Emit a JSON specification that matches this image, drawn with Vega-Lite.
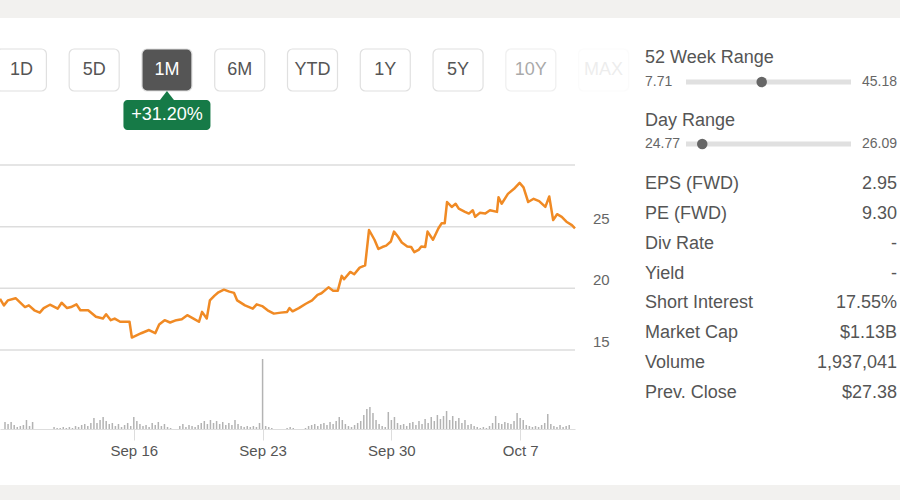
{
  "$schema": "https://vega.github.io/schema/vega-lite/v6.json",
  "width": 900,
  "height": 467,
  "autosize": {"type": "none"},
  "padding": {"left": 0, "right": 0, "top": 18, "bottom": 15},
  "background": "#f2f1ef",
  "config": {
    "view": {"fill": "#ffffff", "stroke": null},
    "font": "Liberation Sans",
    "text": {"font": "Liberation Sans"}
  },
  "datasets": {
    "periods": [
      {"period": "1D"}, {"period": "5D"}, {"period": "1M"}, {"period": "6M"}, {"period": "YTD"},
      {"period": "1Y"}, {"period": "5Y"}, {"period": "10Y"}, {"period": "MAX"}
    ],
    "badge": [{"period": "1M", "change": "+31.20%"}],
    "levels": [{"level": 15}, {"level": 20}, {"level": 25}, {"level": 30}],
    "price": [
      {"t": "2024-09-09T00:00", "close": 19.15}, {"t": "2024-09-09T05:00", "close": 18.62}, {"t": "2024-09-09T10:00", "close": 19.02},
      {"t": "2024-09-09T20:00", "close": 19.20}, {"t": "2024-09-10T08:00", "close": 18.48}, {"t": "2024-09-10T13:00", "close": 18.62},
      {"t": "2024-09-10T20:00", "close": 18.22}, {"t": "2024-09-11T03:00", "close": 18.03}, {"t": "2024-09-11T08:00", "close": 18.40},
      {"t": "2024-09-11T16:00", "close": 18.67}, {"t": "2024-09-12T02:00", "close": 18.35}, {"t": "2024-09-12T07:00", "close": 18.83},
      {"t": "2024-09-12T14:00", "close": 18.40}, {"t": "2024-09-12T19:00", "close": 18.48}, {"t": "2024-09-13T02:00", "close": 18.70},
      {"t": "2024-09-13T07:00", "close": 18.22}, {"t": "2024-09-13T17:00", "close": 18.22}, {"t": "2024-09-14T03:00", "close": 17.69},
      {"t": "2024-09-14T12:00", "close": 17.55}, {"t": "2024-09-14T16:00", "close": 17.90}, {"t": "2024-09-14T22:00", "close": 17.42},
      {"t": "2024-09-15T03:00", "close": 17.55}, {"t": "2024-09-15T10:00", "close": 17.29}, {"t": "2024-09-15T22:00", "close": 17.29},
      {"t": "2024-09-16T01:00", "close": 16.01}, {"t": "2024-09-16T13:00", "close": 16.36}, {"t": "2024-09-16T23:00", "close": 16.62},
      {"t": "2024-09-17T07:00", "close": 16.36}, {"t": "2024-09-17T12:00", "close": 17.07}, {"t": "2024-09-17T19:00", "close": 17.42},
      {"t": "2024-09-18T02:00", "close": 17.23}, {"t": "2024-09-18T10:00", "close": 17.42}, {"t": "2024-09-18T17:00", "close": 17.50},
      {"t": "2024-09-19T00:00", "close": 17.82}, {"t": "2024-09-19T08:00", "close": 17.55}, {"t": "2024-09-19T15:00", "close": 17.29},
      {"t": "2024-09-19T19:00", "close": 18.09}, {"t": "2024-09-20T01:00", "close": 17.55}, {"t": "2024-09-20T05:00", "close": 19.02},
      {"t": "2024-09-20T11:00", "close": 19.41}, {"t": "2024-09-20T16:00", "close": 19.68}, {"t": "2024-09-20T23:00", "close": 19.89},
      {"t": "2024-09-21T06:00", "close": 19.73}, {"t": "2024-09-21T12:00", "close": 19.63}, {"t": "2024-09-21T16:00", "close": 19.02},
      {"t": "2024-09-22T02:00", "close": 18.62}, {"t": "2024-09-22T12:00", "close": 18.35}, {"t": "2024-09-22T17:00", "close": 18.70},
      {"t": "2024-09-23T00:00", "close": 18.56}, {"t": "2024-09-23T07:00", "close": 18.22}, {"t": "2024-09-23T15:00", "close": 17.95},
      {"t": "2024-09-24T00:00", "close": 18.03}, {"t": "2024-09-24T08:00", "close": 18.09}, {"t": "2024-09-24T11:00", "close": 18.40},
      {"t": "2024-09-24T15:00", "close": 18.14}, {"t": "2024-09-24T23:00", "close": 18.40}, {"t": "2024-09-25T08:00", "close": 18.75},
      {"t": "2024-09-25T16:00", "close": 19.02}, {"t": "2024-09-25T23:00", "close": 19.47}, {"t": "2024-09-26T04:00", "close": 19.60},
      {"t": "2024-09-26T13:00", "close": 20.08}, {"t": "2024-09-26T19:00", "close": 19.81}, {"t": "2024-09-27T01:00", "close": 19.81},
      {"t": "2024-09-27T06:00", "close": 21.01}, {"t": "2024-09-27T09:00", "close": 20.74}, {"t": "2024-09-27T17:00", "close": 21.33},
      {"t": "2024-09-27T22:00", "close": 21.14}, {"t": "2024-09-28T05:00", "close": 21.68}, {"t": "2024-09-28T12:00", "close": 21.86},
      {"t": "2024-09-28T17:00", "close": 24.73}, {"t": "2024-09-29T00:00", "close": 23.94}, {"t": "2024-09-29T05:00", "close": 23.19},
      {"t": "2024-09-29T10:00", "close": 23.35}, {"t": "2024-09-29T15:00", "close": 23.46}, {"t": "2024-09-29T21:00", "close": 23.80},
      {"t": "2024-09-30T01:00", "close": 24.60}, {"t": "2024-09-30T06:00", "close": 24.20}, {"t": "2024-09-30T11:00", "close": 23.72},
      {"t": "2024-09-30T18:00", "close": 23.40}, {"t": "2024-09-30T23:00", "close": 23.35}, {"t": "2024-10-01T03:00", "close": 22.93},
      {"t": "2024-10-01T09:00", "close": 23.14}, {"t": "2024-10-01T12:00", "close": 23.40}, {"t": "2024-10-01T17:00", "close": 23.35},
      {"t": "2024-10-01T20:00", "close": 24.60}, {"t": "2024-10-02T03:00", "close": 23.94}, {"t": "2024-10-02T10:00", "close": 24.87},
      {"t": "2024-10-02T14:00", "close": 25.27}, {"t": "2024-10-02T18:00", "close": 25.27}, {"t": "2024-10-02T21:00", "close": 27.00},
      {"t": "2024-10-03T03:00", "close": 26.60}, {"t": "2024-10-03T08:00", "close": 26.86}, {"t": "2024-10-03T12:00", "close": 26.46},
      {"t": "2024-10-03T20:00", "close": 26.20}, {"t": "2024-10-04T01:00", "close": 26.06}, {"t": "2024-10-04T06:00", "close": 26.33},
      {"t": "2024-10-04T09:00", "close": 25.80}, {"t": "2024-10-04T15:00", "close": 26.12}, {"t": "2024-10-04T22:00", "close": 26.06},
      {"t": "2024-10-05T04:00", "close": 26.33}, {"t": "2024-10-05T13:00", "close": 26.20}, {"t": "2024-10-05T15:00", "close": 27.39},
      {"t": "2024-10-05T19:00", "close": 26.86}, {"t": "2024-10-06T03:00", "close": 27.66}, {"t": "2024-10-06T12:00", "close": 28.14},
      {"t": "2024-10-06T18:00", "close": 28.55}, {"t": "2024-10-06T23:00", "close": 28.19}, {"t": "2024-10-07T05:00", "close": 27.00},
      {"t": "2024-10-07T12:00", "close": 27.26}, {"t": "2024-10-07T19:00", "close": 27.07}, {"t": "2024-10-08T03:00", "close": 26.60},
      {"t": "2024-10-08T08:00", "close": 27.45}, {"t": "2024-10-08T13:00", "close": 25.53}, {"t": "2024-10-08T18:00", "close": 26.01},
      {"t": "2024-10-09T00:00", "close": 25.80}, {"t": "2024-10-09T06:00", "close": 25.40}, {"t": "2024-10-09T13:00", "close": 25.13},
      {"t": "2024-10-09T17:00", "close": 24.87}
    ],
    "volume": [
      {"t": "2024-09-09T00:00", "v": 105000}, {"t": "2024-09-09T04:00", "v": 75000}, {"t": "2024-09-09T08:00", "v": 105000}, {"t": "2024-09-09T12:00", "v": 60000}, {"t": "2024-09-09T16:00", "v": 30000}, {"t": "2024-09-09T20:00", "v": 45000},
      {"t": "2024-09-10T00:00", "v": 60000}, {"t": "2024-09-10T04:00", "v": 135000}, {"t": "2024-09-10T08:00", "v": 45000}, {"t": "2024-09-10T12:00", "v": 105000},
      {"t": "2024-09-11T16:00", "v": 30000}, {"t": "2024-09-11T20:00", "v": 15000},
      {"t": "2024-09-12T00:00", "v": 15000}, {"t": "2024-09-12T04:00", "v": 30000}, {"t": "2024-09-12T08:00", "v": 15000}, {"t": "2024-09-12T12:00", "v": 30000}, {"t": "2024-09-12T16:00", "v": 15000}, {"t": "2024-09-12T20:00", "v": 45000},
      {"t": "2024-09-13T00:00", "v": 30000}, {"t": "2024-09-13T04:00", "v": 60000}, {"t": "2024-09-13T08:00", "v": 75000}, {"t": "2024-09-13T12:00", "v": 45000}, {"t": "2024-09-13T16:00", "v": 90000}, {"t": "2024-09-13T20:00", "v": 165000},
      {"t": "2024-09-14T00:00", "v": 90000}, {"t": "2024-09-14T04:00", "v": 135000}, {"t": "2024-09-14T08:00", "v": 180000}, {"t": "2024-09-14T12:00", "v": 120000}, {"t": "2024-09-14T16:00", "v": 75000}, {"t": "2024-09-14T20:00", "v": 90000},
      {"t": "2024-09-15T00:00", "v": 45000}, {"t": "2024-09-15T04:00", "v": 75000}, {"t": "2024-09-15T08:00", "v": 30000}, {"t": "2024-09-15T12:00", "v": 60000}, {"t": "2024-09-15T16:00", "v": 90000}, {"t": "2024-09-15T20:00", "v": 45000},
      {"t": "2024-09-16T00:00", "v": 180000}, {"t": "2024-09-16T04:00", "v": 120000}, {"t": "2024-09-16T08:00", "v": 75000}, {"t": "2024-09-16T12:00", "v": 45000}, {"t": "2024-09-16T16:00", "v": 60000}, {"t": "2024-09-16T20:00", "v": 30000},
      {"t": "2024-09-17T00:00", "v": 90000}, {"t": "2024-09-17T04:00", "v": 60000}, {"t": "2024-09-17T08:00", "v": 105000}, {"t": "2024-09-17T12:00", "v": 45000}, {"t": "2024-09-17T16:00", "v": 75000}, {"t": "2024-09-17T20:00", "v": 30000},
      {"t": "2024-09-18T00:00", "v": 15000}, {"t": "2024-09-18T12:00", "v": 45000}, {"t": "2024-09-18T16:00", "v": 75000}, {"t": "2024-09-18T20:00", "v": 30000},
      {"t": "2024-09-19T00:00", "v": 60000}, {"t": "2024-09-19T04:00", "v": 45000}, {"t": "2024-09-19T08:00", "v": 30000}, {"t": "2024-09-19T12:00", "v": 60000}, {"t": "2024-09-19T16:00", "v": 90000}, {"t": "2024-09-19T20:00", "v": 120000},
      {"t": "2024-09-20T00:00", "v": 75000}, {"t": "2024-09-20T04:00", "v": 135000}, {"t": "2024-09-20T08:00", "v": 90000}, {"t": "2024-09-20T12:00", "v": 120000}, {"t": "2024-09-20T16:00", "v": 75000}, {"t": "2024-09-20T20:00", "v": 105000},
      {"t": "2024-09-21T00:00", "v": 60000}, {"t": "2024-09-21T04:00", "v": 90000}, {"t": "2024-09-21T08:00", "v": 60000}, {"t": "2024-09-21T12:00", "v": 135000}, {"t": "2024-09-21T16:00", "v": 75000}, {"t": "2024-09-21T20:00", "v": 45000},
      {"t": "2024-09-22T00:00", "v": 30000}, {"t": "2024-09-22T04:00", "v": 45000}, {"t": "2024-09-22T08:00", "v": 30000}, {"t": "2024-09-22T12:00", "v": 45000}, {"t": "2024-09-22T16:00", "v": 30000}, {"t": "2024-09-22T20:00", "v": 90000},
      {"t": "2024-09-23T00:00", "v": 1050000}, {"t": "2024-09-23T04:00", "v": 45000}, {"t": "2024-09-23T08:00", "v": 30000}, {"t": "2024-09-23T12:00", "v": 15000},
      {"t": "2024-09-24T08:00", "v": 15000}, {"t": "2024-09-24T12:00", "v": 30000}, {"t": "2024-09-24T16:00", "v": 15000},
      {"t": "2024-09-25T08:00", "v": 15000}, {"t": "2024-09-25T12:00", "v": 45000}, {"t": "2024-09-25T16:00", "v": 60000}, {"t": "2024-09-25T20:00", "v": 75000},
      {"t": "2024-09-26T00:00", "v": 45000}, {"t": "2024-09-26T04:00", "v": 75000}, {"t": "2024-09-26T08:00", "v": 90000}, {"t": "2024-09-26T12:00", "v": 60000}, {"t": "2024-09-26T16:00", "v": 105000}, {"t": "2024-09-26T20:00", "v": 75000},
      {"t": "2024-09-27T00:00", "v": 120000}, {"t": "2024-09-27T04:00", "v": 180000}, {"t": "2024-09-27T08:00", "v": 135000}, {"t": "2024-09-27T12:00", "v": 75000}, {"t": "2024-09-27T16:00", "v": 45000}, {"t": "2024-09-27T20:00", "v": 30000},
      {"t": "2024-09-28T00:00", "v": 60000}, {"t": "2024-09-28T04:00", "v": 90000}, {"t": "2024-09-28T08:00", "v": 120000}, {"t": "2024-09-28T12:00", "v": 210000}, {"t": "2024-09-28T16:00", "v": 300000}, {"t": "2024-09-28T20:00", "v": 330000},
      {"t": "2024-09-29T00:00", "v": 240000}, {"t": "2024-09-29T04:00", "v": 135000}, {"t": "2024-09-29T08:00", "v": 75000}, {"t": "2024-09-29T12:00", "v": 45000}, {"t": "2024-09-29T16:00", "v": 30000}, {"t": "2024-09-29T20:00", "v": 255000},
      {"t": "2024-09-30T00:00", "v": 135000}, {"t": "2024-09-30T04:00", "v": 180000}, {"t": "2024-09-30T08:00", "v": 90000}, {"t": "2024-09-30T12:00", "v": 60000}, {"t": "2024-09-30T16:00", "v": 75000}, {"t": "2024-09-30T20:00", "v": 45000},
      {"t": "2024-10-01T00:00", "v": 90000}, {"t": "2024-10-01T04:00", "v": 105000}, {"t": "2024-10-01T08:00", "v": 60000}, {"t": "2024-10-01T12:00", "v": 120000}, {"t": "2024-10-01T16:00", "v": 75000}, {"t": "2024-10-01T20:00", "v": 150000},
      {"t": "2024-10-02T00:00", "v": 90000}, {"t": "2024-10-02T04:00", "v": 180000}, {"t": "2024-10-02T08:00", "v": 120000}, {"t": "2024-10-02T12:00", "v": 210000}, {"t": "2024-10-02T16:00", "v": 150000}, {"t": "2024-10-02T20:00", "v": 195000},
      {"t": "2024-10-03T00:00", "v": 270000}, {"t": "2024-10-03T04:00", "v": 135000}, {"t": "2024-10-03T08:00", "v": 195000}, {"t": "2024-10-03T12:00", "v": 120000}, {"t": "2024-10-03T16:00", "v": 165000}, {"t": "2024-10-03T20:00", "v": 90000},
      {"t": "2024-10-04T00:00", "v": 135000}, {"t": "2024-10-04T04:00", "v": 60000}, {"t": "2024-10-04T08:00", "v": 75000}, {"t": "2024-10-04T12:00", "v": 45000}, {"t": "2024-10-04T16:00", "v": 30000}, {"t": "2024-10-04T20:00", "v": 15000},
      {"t": "2024-10-05T00:00", "v": 30000}, {"t": "2024-10-05T04:00", "v": 15000}, {"t": "2024-10-05T08:00", "v": 45000}, {"t": "2024-10-05T12:00", "v": 90000}, {"t": "2024-10-05T16:00", "v": 195000}, {"t": "2024-10-05T20:00", "v": 90000},
      {"t": "2024-10-06T00:00", "v": 75000}, {"t": "2024-10-06T04:00", "v": 105000}, {"t": "2024-10-06T08:00", "v": 90000}, {"t": "2024-10-06T12:00", "v": 75000}, {"t": "2024-10-06T16:00", "v": 120000}, {"t": "2024-10-06T20:00", "v": 240000},
      {"t": "2024-10-07T00:00", "v": 165000}, {"t": "2024-10-07T04:00", "v": 135000}, {"t": "2024-10-07T08:00", "v": 60000}, {"t": "2024-10-07T12:00", "v": 45000}, {"t": "2024-10-07T16:00", "v": 30000}, {"t": "2024-10-07T20:00", "v": 45000},
      {"t": "2024-10-08T00:00", "v": 30000}, {"t": "2024-10-08T04:00", "v": 60000}, {"t": "2024-10-08T08:00", "v": 90000}, {"t": "2024-10-08T12:00", "v": 225000}, {"t": "2024-10-08T16:00", "v": 75000}, {"t": "2024-10-08T20:00", "v": 45000},
      {"t": "2024-10-09T00:00", "v": 30000}, {"t": "2024-10-09T04:00", "v": 60000}, {"t": "2024-10-09T08:00", "v": 30000}, {"t": "2024-10-09T12:00", "v": 45000}, {"t": "2024-10-09T16:00", "v": 60000}
    ],
    "ranges": [
      {"range": "52 Week Range", "low": 7.71, "high": 45.18, "price": 24.9},
      {"range": "Day Range", "low": 24.77, "high": 26.09, "price": 24.9}
    ],
    "stats": [
      {"name": "EPS (FWD)", "value": "2.95"},
      {"name": "PE (FWD)", "value": "9.30"},
      {"name": "Div Rate", "value": "-"},
      {"name": "Yield", "value": "-"},
      {"name": "Short Interest", "value": "17.55%"},
      {"name": "Market Cap", "value": "$1.13B"},
      {"name": "Volume", "value": "1,937,041"},
      {"name": "Prev. Close", "value": "$27.38"}
    ]
  },
  "layer": [
    {
      "data": {"name": "periods"},
      "encoding": {
        "x": {"field": "period", "type": "nominal", "sort": null, "axis": null,
          "scale": {"type": "band", "domain": ["1D", "5D", "1M", "6M", "YTD", "1Y", "5Y", "10Y", "MAX"], "range": [-3.6, 628.6], "paddingInner": 0.313, "paddingOuter": 0}},
        "y": {"datum": "buttons", "type": "nominal", "axis": null,
          "scale": {"type": "band", "domain": ["buttons"], "range": [31, 73], "paddingInner": 0, "paddingOuter": 0}},
        "opacity": {"condition": [{"test": "datum.period === '10Y'", "value": 0.5}, {"test": "datum.period === 'MAX'", "value": 0.1}], "value": 1}
      },
      "layer": [
        {"mark": {"type": "rect", "cornerRadius": 5, "stroke": "#e0e0e0", "strokeWidth": 1.2},
         "encoding": {"fill": {"condition": {"test": "datum.period === '1M'", "value": "#555555"}, "value": "#ffffff"}}},
        {"mark": {"type": "text", "fontSize": 18, "baseline": "middle", "align": "center"},
         "encoding": {"text": {"field": "period"}, "color": {"condition": {"test": "datum.period === '1M'", "value": "#ffffff"}, "value": "#555555"}}}
      ]
    },
    {
      "data": {"name": "badge"},
      "encoding": {
        "x": {"field": "period", "type": "nominal", "axis": null,
          "scale": {"type": "band", "domain": ["1D", "5D", "1M", "6M", "YTD", "1Y", "5Y", "10Y", "MAX"], "range": [-3.6, 628.6], "paddingInner": 0.313, "paddingOuter": 0}},
        "y": {"datum": "badge", "type": "nominal", "axis": null,
          "scale": {"type": "band", "domain": ["badge"], "range": [82, 112], "paddingInner": 0, "paddingOuter": 0}}
      },
      "layer": [
        {"mark": {"type": "rect", "width": 87, "cornerRadius": 4, "fill": "#167a47"}},
        {"mark": {"type": "point", "shape": "M-1,0L0,-1.3L1,0Z", "size": 196, "filled": true, "color": "#167a47", "opacity": 1},
         "encoding": {"y": {"datum": "badge", "type": "nominal", "bandPosition": 0, "axis": null}}},
        {"mark": {"type": "text", "fontSize": 18, "color": "#ffffff", "baseline": "middle", "align": "center"},
         "encoding": {"text": {"field": "change"}}}
      ]
    },
    {
      "layer": [
        {
          "data": {"name": "levels"},
          "mark": {"type": "rule", "color": "#dddddd", "strokeWidth": 1.5},
          "encoding": {
            "y": {"field": "level", "type": "quantitative", "axis": null, "scale": {"domain": [15, 30], "range": [332, 147], "nice": false, "zero": false}},
            "x": {"datum": {"year": 2024, "month": "sep", "date": 9}, "type": "temporal", "axis": null,
              "scale": {"domain": [{"year": 2024, "month": "sep", "date": 9}, {"year": 2024, "month": "oct", "date": 9, "hours": 17}], "range": [0, 575], "nice": false}},
            "x2": {"datum": {"year": 2024, "month": "oct", "date": 9, "hours": 17}}
          }
        },
        {
          "data": {"name": "levels"},
          "transform": [{"filter": "datum.level < 30"}],
          "mark": {"type": "text", "align": "left", "baseline": "middle", "dx": 18, "dy": -8, "fontSize": 15, "color": "#666666"},
          "encoding": {
            "y": {"field": "level", "type": "quantitative", "axis": null},
            "x": {"datum": {"year": 2024, "month": "oct", "date": 9, "hours": 17}, "type": "temporal", "axis": null},
            "text": {"field": "level"}
          }
        },
        {
          "data": {"name": "price"},
          "mark": {"type": "line", "color": "#f08a24", "strokeWidth": 2.5, "strokeJoin": "round"},
          "encoding": {
            "x": {"field": "t", "type": "temporal", "axis": null},
            "y": {"field": "close", "type": "quantitative", "axis": null}
          }
        }
      ]
    },
    {
      "data": {"name": "volume"},
      "mark": {"type": "bar", "width": 1.5, "color": "#b3b3b3"},
      "encoding": {
        "x": {"field": "t", "type": "temporal",
          "scale": {"domain": [{"year": 2024, "month": "sep", "date": 9}, {"year": 2024, "month": "oct", "date": 9, "hours": 17}], "range": [0, 575], "nice": false},
          "axis": {"values": [{"year": 2024, "month": "sep", "date": 16}, {"year": 2024, "month": "sep", "date": 23}, {"year": 2024, "month": "sep", "date": 30}, {"year": 2024, "month": "oct", "date": 7}],
            "format": "%b %-d", "offset": -56, "domain": true, "domainColor": "#dddddd", "domainWidth": 1,
            "ticks": true, "tickColor": "#dddddd", "tickSize": 11, "labelFontSize": 15, "labelColor": "#555555",
            "labelPadding": 3, "grid": false, "title": null, "labelFont": "Liberation Sans"}},
        "y": {"field": "v", "type": "quantitative", "axis": null, "scale": {"domain": [0, 1050000], "range": [411, 341], "nice": false}}
      }
    },
    {
      "data": {"name": "ranges"},
      "mark": {"type": "text", "align": "left", "baseline": "middle", "fontSize": 18, "color": "#555555"},
      "encoding": {
        "x": {"datum": "label", "type": "nominal", "axis": null, "scale": {"type": "point", "domain": ["label", "value"], "range": [645, 897], "padding": 0}},
        "y": {"field": "range", "type": "nominal", "sort": null, "axis": null, "scale": {"type": "point", "domain": ["52 Week Range", "Day Range"], "range": [40, 103], "padding": 0}},
        "text": {"field": "range"}
      }
    },
    {
      "data": {"name": "ranges"},
      "transform": [{"filter": "datum.range === '52 Week Range'"}],
      "encoding": {
        "y": {"field": "range", "type": "nominal", "axis": null, "scale": {"type": "point", "domain": ["52 Week Range", "Day Range"], "range": [64, 126], "padding": 0}}
      },
      "layer": [
        {"mark": {"type": "rule", "color": "#e0e0e0", "strokeWidth": 5},
         "encoding": {"x": {"field": "low", "type": "quantitative", "axis": null, "scale": {"zero": false, "nice": false, "range": [686, 851]}}, "x2": {"field": "high"}}},
        {"mark": {"type": "point", "filled": true, "color": "#666666", "size": 110, "opacity": 1},
         "encoding": {"x": {"field": "price", "type": "quantitative", "axis": null}}},
        {"mark": {"type": "text", "align": "left", "baseline": "middle", "dx": -41, "fontSize": 14, "color": "#666666"},
         "encoding": {"x": {"field": "low", "type": "quantitative", "axis": null}, "text": {"field": "low", "type": "quantitative", "format": ".2f"}}},
        {"mark": {"type": "text", "align": "right", "baseline": "middle", "dx": 46, "fontSize": 14, "color": "#666666"},
         "encoding": {"x": {"field": "high", "type": "quantitative", "axis": null}, "text": {"field": "high", "type": "quantitative", "format": ".2f"}}}
      ]
    },
    {
      "data": {"name": "ranges"},
      "transform": [{"filter": "datum.range === 'Day Range'"}],
      "encoding": {
        "y": {"field": "range", "type": "nominal", "axis": null, "scale": {"type": "point", "domain": ["52 Week Range", "Day Range"], "range": [64, 126], "padding": 0}}
      },
      "layer": [
        {"mark": {"type": "rule", "color": "#e0e0e0", "strokeWidth": 5},
         "encoding": {"x": {"field": "low", "type": "quantitative", "axis": null, "scale": {"zero": false, "nice": false, "range": [686, 851]}}, "x2": {"field": "high"}}},
        {"mark": {"type": "point", "filled": true, "color": "#666666", "size": 110, "opacity": 1},
         "encoding": {"x": {"field": "price", "type": "quantitative", "axis": null}}},
        {"mark": {"type": "text", "align": "left", "baseline": "middle", "dx": -41, "fontSize": 14, "color": "#666666"},
         "encoding": {"x": {"field": "low", "type": "quantitative", "axis": null}, "text": {"field": "low", "type": "quantitative", "format": ".2f"}}},
        {"mark": {"type": "text", "align": "right", "baseline": "middle", "dx": 46, "fontSize": 14, "color": "#666666"},
         "encoding": {"x": {"field": "high", "type": "quantitative", "axis": null}, "text": {"field": "high", "type": "quantitative", "format": ".2f"}}}
      ]
    },
    {
      "data": {"name": "stats"},
      "encoding": {
        "y": {"field": "name", "type": "nominal", "sort": null, "axis": null,
          "scale": {"type": "point", "domain": ["EPS (FWD)", "PE (FWD)", "Div Rate", "Yield", "Short Interest", "Market Cap", "Volume", "Prev. Close"], "range": [166, 375], "padding": 0}}
      },
      "layer": [
        {"mark": {"type": "text", "align": "left", "baseline": "middle", "fontSize": 18, "color": "#555555"},
         "encoding": {"x": {"datum": "label", "type": "nominal", "axis": null, "scale": {"type": "point", "domain": ["label", "value"], "range": [645, 897], "padding": 0}}, "text": {"field": "name"}}},
        {"mark": {"type": "text", "align": "right", "baseline": "middle", "fontSize": 18, "color": "#555555"},
         "encoding": {"x": {"datum": "value", "type": "nominal", "axis": null}, "text": {"field": "value"}}}
      ]
    }
  ],
  "resolve": {"scale": {"x": "independent", "y": "independent"}, "axis": {"x": "independent", "y": "independent"}}
}
